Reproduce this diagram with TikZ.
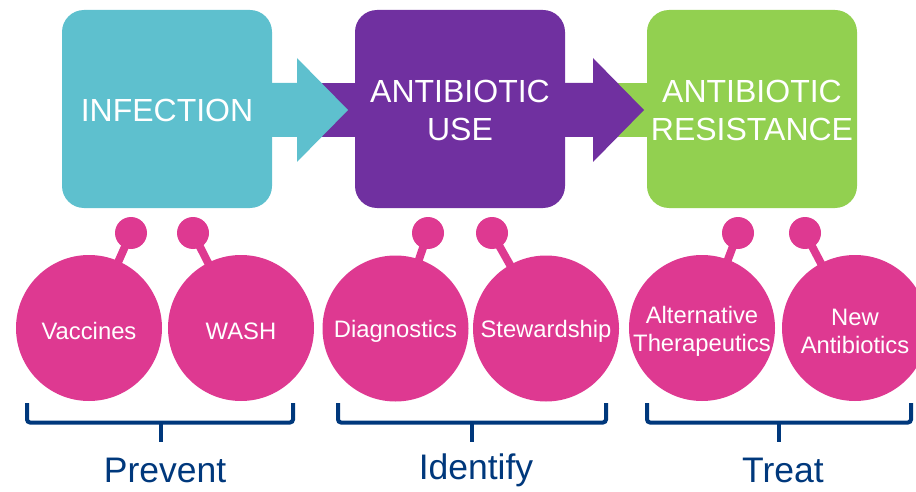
\documentclass[tikz,border=0pt]{standalone}
\usepackage{fontspec}
\setmainfont{Liberation Sans}
\definecolor{cyanbox}{HTML}{5EC0CE}
\definecolor{purplebox}{HTML}{7030A0}
\definecolor{greenbox}{HTML}{92D050}
\definecolor{pinkc}{HTML}{DE3991}
\definecolor{navy}{HTML}{00387C}
\begin{document}
\begin{tikzpicture}[x=1pt,y=-1pt,
  box/.style={rounded corners=22pt, minimum width=210pt, minimum height=198pt, inner sep=0pt, text=white, font=\fontsize{32}{38}\selectfont, align=center},
  big/.style={circle, fill=pinkc, minimum size=146pt, inner sep=0pt},
  biglab/.style={text=white, font=\fontsize{23.8}{28}\selectfont, align=center},
  pinc/.style={circle, fill=pinkc, minimum size=32pt, inner sep=0pt},
  stem/.style={draw=pinkc, line width=8pt},
  bracket/.style={draw=navy, line width=4pt, rounded corners=3pt},
  lab/.style={text=navy, font=\fontsize{35.5}{40}\selectfont}]
\useasboundingbox (0,0) rectangle (916,492);
% stubs behind arrow heads
\fill[purplebox] (305,83) rectangle (357,137);
\fill[greenbox] (600,83) rectangle (649,137);
% boxes
\node[box, fill=cyanbox] (inf) at (167,109) {};
\node[box, fill=purplebox] (use) at (460,109) {};
\node[box, fill=greenbox] (res) at (752,109) {};
\node[box, yshift=-1.5pt] (inft) at (inf) {INFECTION};
\node[box, yshift=-1pt] (uset) at (use) {ANTIBIOTIC\\USE};
\node[box, yshift=-1pt] (rest) at (res) {ANTIBIOTIC\\RESISTANCE};
% arrows
\fill[cyanbox] (270,83) -- (297,83) -- (297,58) -- (348,110) -- (297,162) -- (297,137) -- (270,137) -- cycle;
\fill[purplebox] (563,83) -- (593,83) -- (593,58) -- (644,110) -- (593,162) -- (593,137) -- (563,137) -- cycle;
% pins
\coordinate (c1) at (89,328);
\coordinate (c2) at (241,328);
\coordinate (c3) at (395.5,328.5);
\coordinate (c4) at (546,328.5);
\coordinate (c5) at (702,328);
\coordinate (c6) at (855,328);
\node[pinc] (p1) at (131,233) {};
\node[pinc] (p2) at (193,233) {};
\node[pinc] (p3) at (428,233) {};
\node[pinc] (p4) at (492,233) {};
\node[pinc] (p5) at (738,233) {};
\node[pinc] (p6) at (805,233) {};
\foreach \i in {1,...,6} \draw[stem] (p\i.center) -- (c\i);
% circles
\node[big] (vac) at (c1) {};
\node[big] (wash) at (c2) {};
\node[big] (diag) at (c3) {};
\node[big] (stew) at (c4) {};
\node[big] (alt) at (c5) {};
\node[big] (new) at (c6) {};
\node[biglab, yshift=-3pt] (vact) at (vac) {Vaccines};
\node[biglab, yshift=-3pt] (washt) at (wash) {WASH};
\node[biglab, yshift=-3pt] (diagt) at (diag) {Diagnostics};
\node[biglab, yshift=-3pt] (stewt) at (stew) {Stewardship};
\node[biglab, yshift=-3.5pt] (altt) at (alt) {Alternative\\Therapeutics};
\node[biglab, yshift=-3.5pt] (newt) at (new) {New\\Antibiotics};
% brackets
\draw[bracket] (27,403) -- (27,422.5) -- (293,422.5) -- (293,403);
\draw[bracket] (338,403) -- (338,422.5) -- (606,422.5) -- (606,403);
\draw[bracket] (647,403) -- (647,422.5) -- (911,422.5) -- (911,403);
\coordinate (t1) at (161,422);
\coordinate (t2) at (472,422);
\coordinate (t3) at (779,422);
\draw[navy, line width=4pt] (t1) -- ++(0,20);
\draw[navy, line width=4pt] (t2) -- ++(0,20);
\draw[navy, line width=4pt] (t3) -- ++(0,20);
% labels
\node[lab] (prev) at (165,470) {Prevent};
\node[lab] (iden) at (476,470) {Identify};
\node[lab] (treat) at (783,470) {Treat};
\end{tikzpicture}
\end{document}
